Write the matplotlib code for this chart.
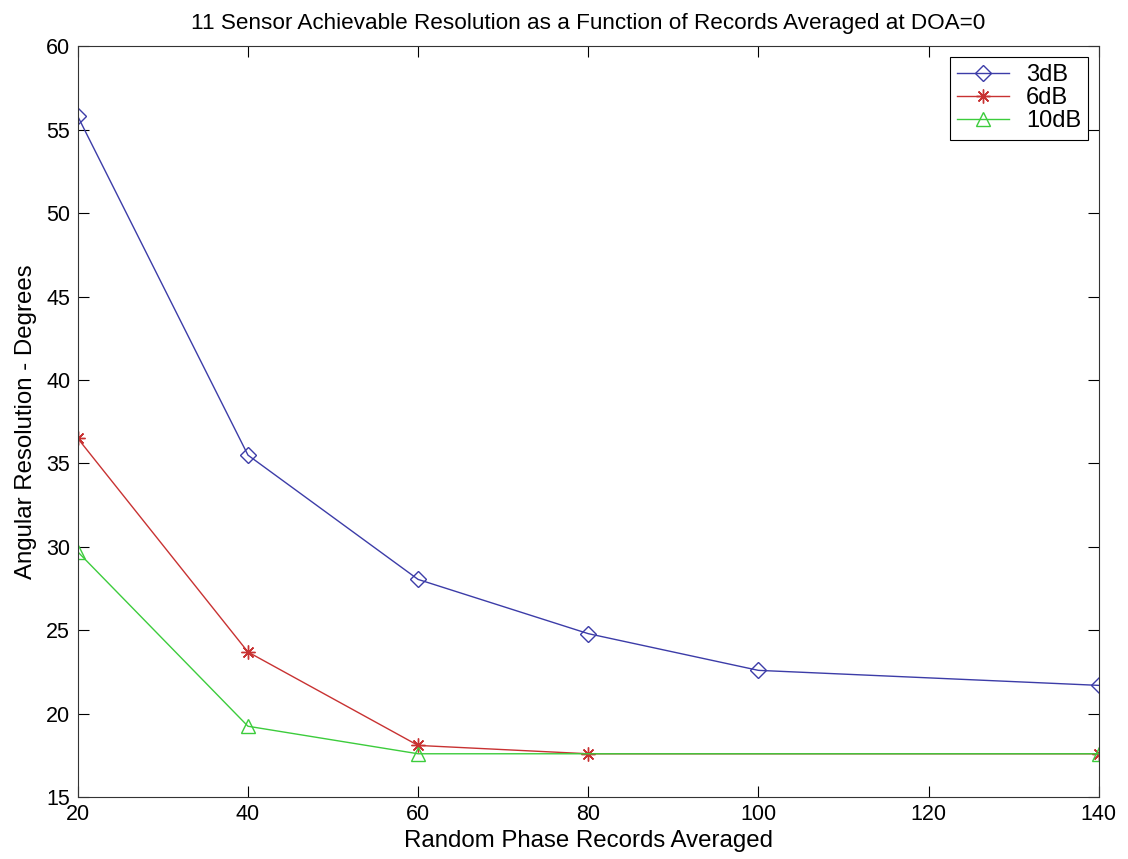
import matplotlib
matplotlib.use("Agg")
import matplotlib.pyplot as plt

# records averaged / angular resolution (deg)
x_3db = [20, 40, 60, 80, 100, 140]
y_3db = [55.8, 35.5, 28.05, 24.8, 22.6, 21.7]
x_6db = [20, 40, 60, 80, 140]
y_6db = [36.5, 23.7, 18.1, 17.6, 17.6]
x_10db = [20, 40, 60, 140]
y_10db = [29.7, 19.25, 17.6, 17.6]

plt.rcParams["font.family"] = ["Liberation Sans", "DejaVu Sans"]

fig = plt.figure(figsize=(11.28, 8.59), dpi=100)
ax = fig.add_axes([0.069, 0.072, 0.905, 0.874])

ax.plot(x_3db, y_3db, color="#3c3ca8", lw=1, marker="D", ms=8.5,
        mfc="none", mew=1, label="3dB")
ax.plot(x_6db, y_6db, color="#c83232", lw=1, marker=(8, 2, 0), ms=10,
        mfc="none", mew=1, label="6dB")
ax.plot(x_10db, y_10db, color="#3ccc3c", lw=1, marker="^", ms=10,
        mfc="none", mew=1, label="10dB")

ax.set_xlim(20, 140)
ax.set_ylim(15, 60)
ax.set_xticks(range(20, 141, 20))
ax.set_yticks(range(15, 61, 5))
ax.tick_params(direction="in", top=True, right=True, labelsize=15.5, length=8)
ax.tick_params(axis="x", pad=5)
ax.tick_params(axis="y", pad=5.5)
for s in ax.spines.values():
    s.set_color("#333333")

ax.set_title("11 Sensor Achievable Resolution as a Function of Records Averaged at DOA=0",
             fontsize=16.2, pad=12.5)
ax.set_xlabel("Random Phase Records Averaged", fontsize=17.3, labelpad=3.5)
ax.set_ylabel("Angular Resolution - Degrees", fontsize=17.3, labelpad=6.5)

leg = ax.legend(loc="upper right", fontsize=17, fancybox=False, framealpha=1,
                edgecolor="black", handlelength=2.2, handletextpad=0.7,
                borderaxespad=0.45, labelspacing=0.05, borderpad=0.3)
leg.get_frame().set_linewidth(0.8)

fig.savefig("out.png", dpi=100)
